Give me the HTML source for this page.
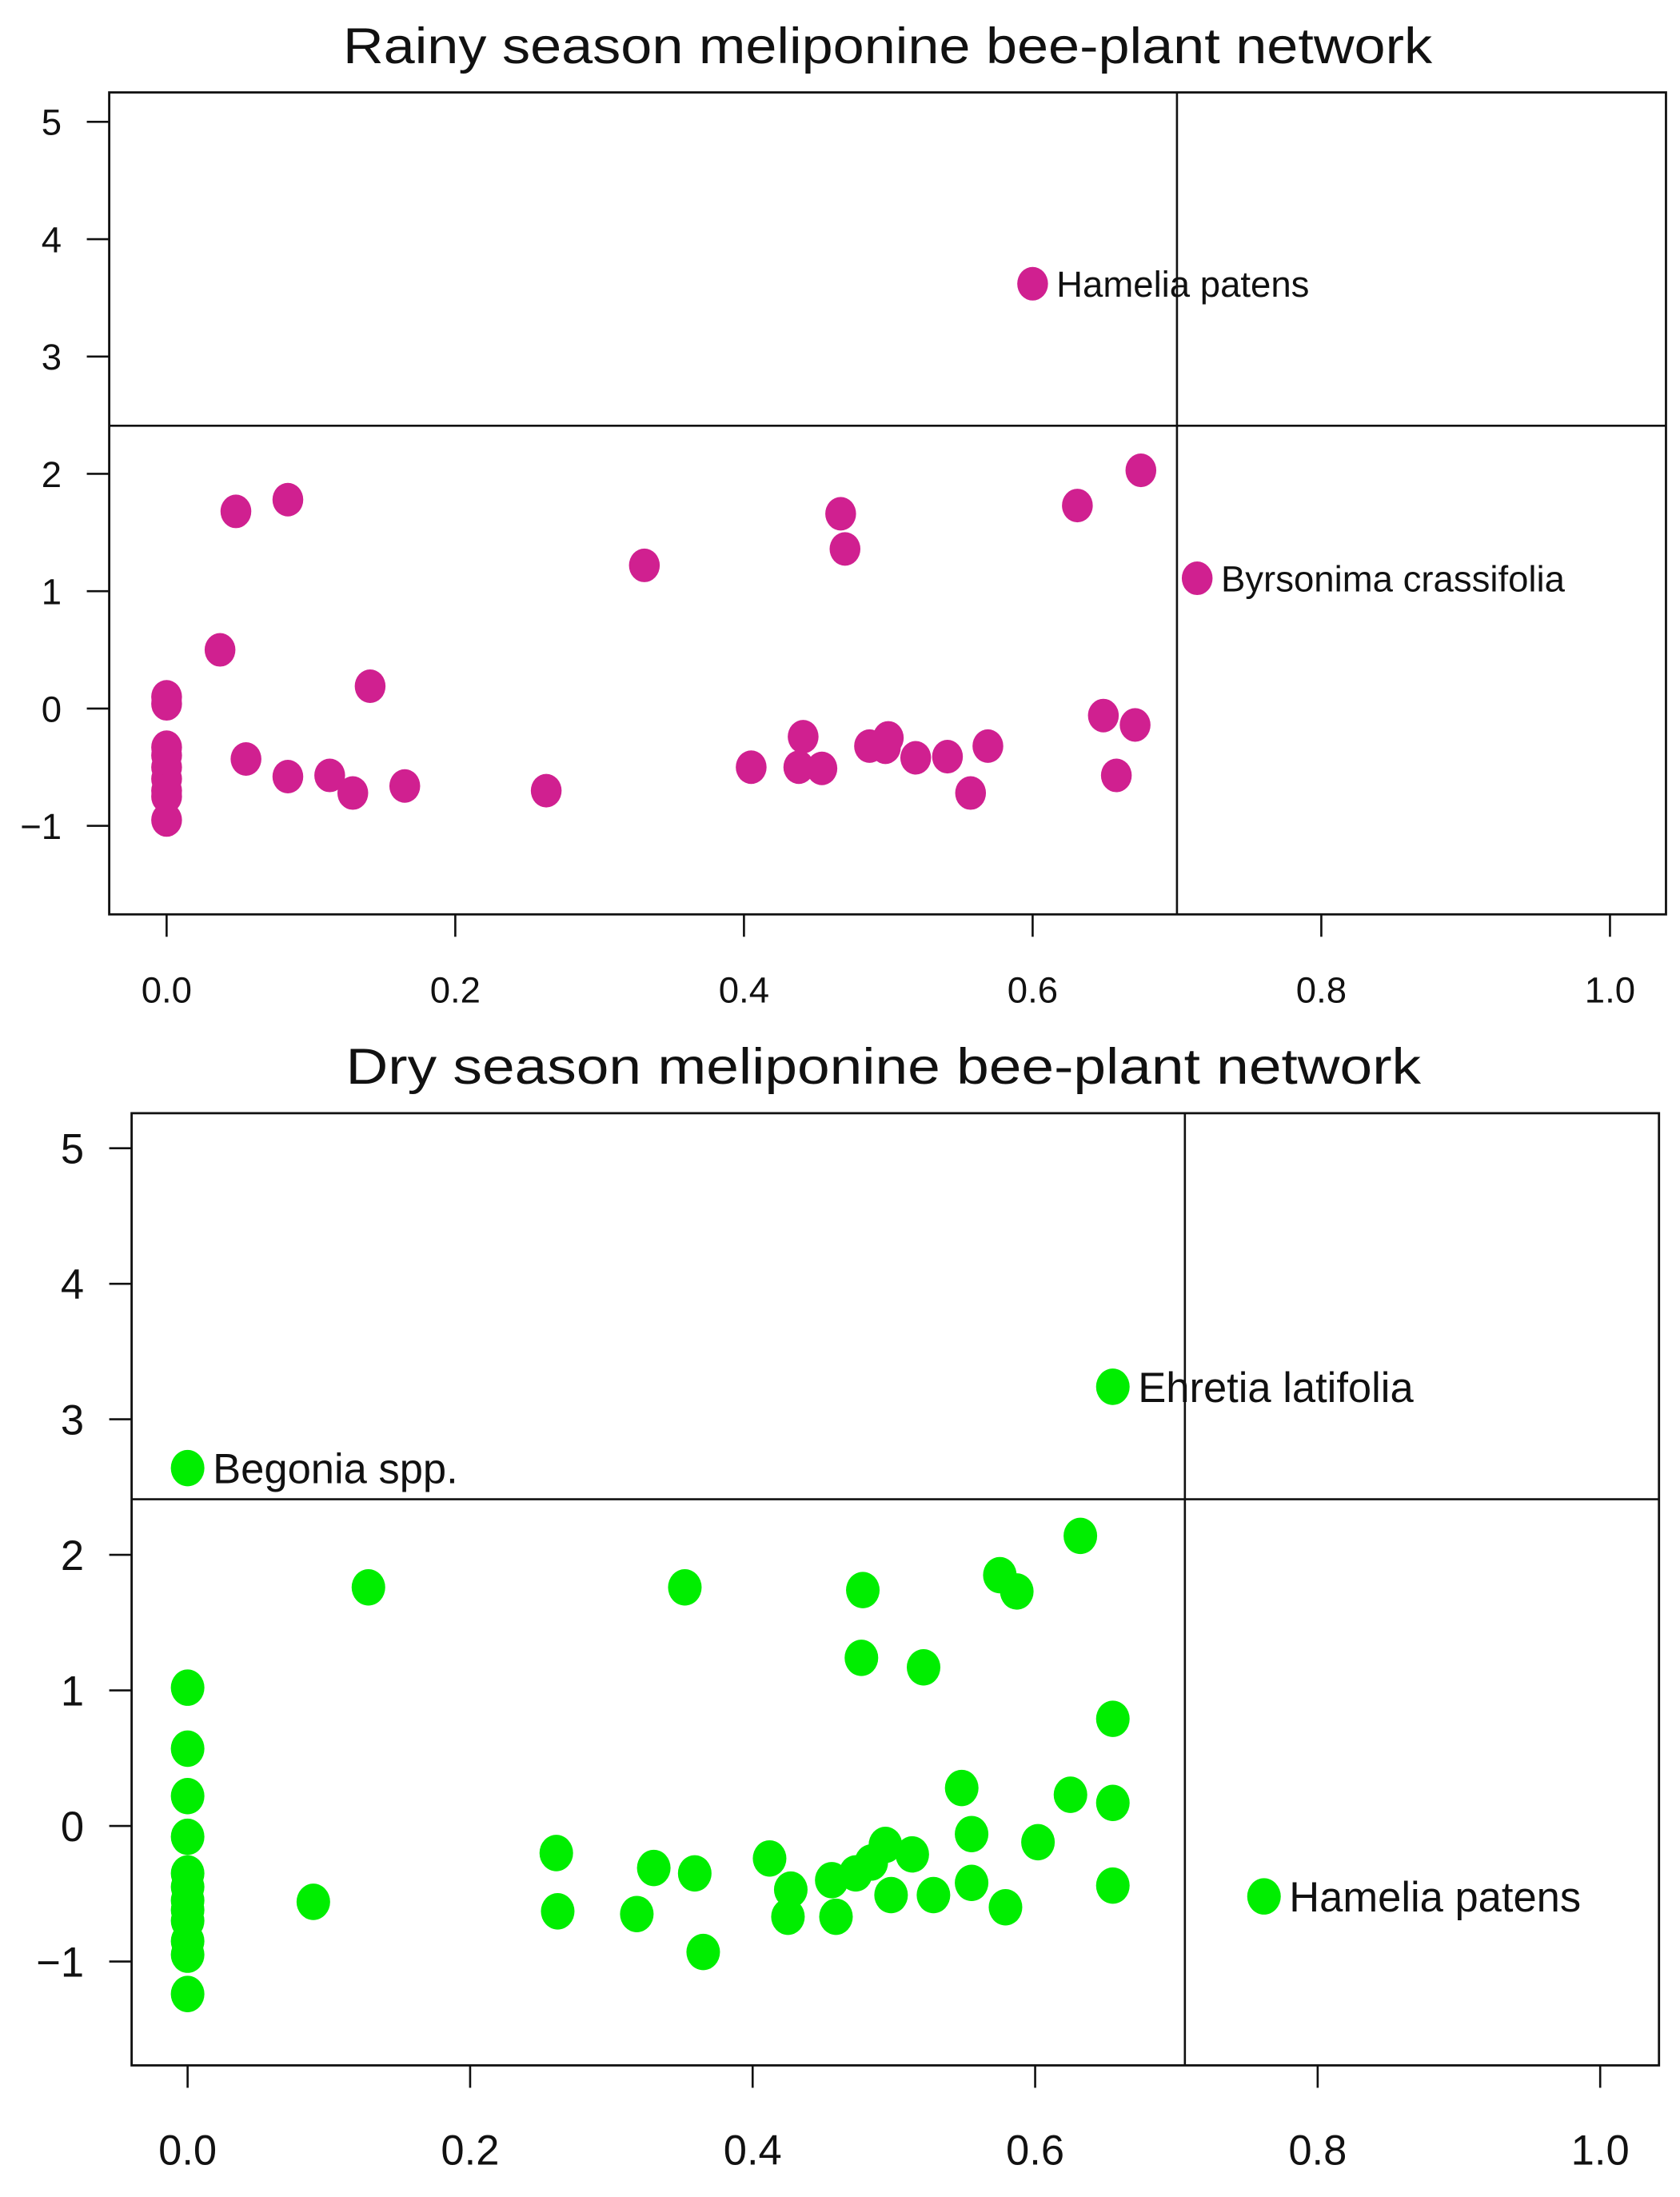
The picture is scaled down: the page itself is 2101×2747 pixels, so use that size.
<!DOCTYPE html>
<html><head><meta charset="utf-8"><style>
html,body{margin:0;padding:0;background:#fff;}
svg{display:block;font-family:"Liberation Sans",sans-serif;}
</style></head><body>
<svg id="fig" width="2101" height="2747" viewBox="0 0 1200 1569" xmlns="http://www.w3.org/2000/svg"></svg>
<script>
// Rainy season data
const rainyX = [0.60,0.714,0.675,0.631,0.467,0.47,0.331,0.048,0.084,0.037,0.141,0,0,0,0,0,0,0,0,0,0.055,0.084,0.113,0.129,0.165,0.263,0.405,0.441,0.438,0.454,0.487,0.5,0.498,0.519,0.541,0.569,0.557,0.649,0.671,0.658];
const rainyY = [3.62,1.11,2.03,1.73,1.66,1.36,1.22,1.68,1.78,0.50,0.19,0.10,0.04,-0.33,-0.40,-0.50,-0.60,-0.70,-0.75,-0.95,-0.43,-0.58,-0.57,-0.72,-0.66,-0.70,-0.50,-0.24,-0.50,-0.51,-0.32,-0.25,-0.33,-0.42,-0.41,-0.32,-0.72,-0.06,-0.14,-0.57];
const rainyLabels = {0:"Hamelia patens",1:"Byrsonima crassifolia"};
// Dry season data
const dryX = [0.655,0,0.762,0.632,0.575,0.587,0.478,0.352,0.128,0.477,0.521,0.655,0.548,0.625,0.655,0.555,0.602,0.261,0.33,0.359,0.412,0.494,0.513,0.484,0.473,0.427,0.456,0.498,0.528,0.555,0.579,0.655,0.089,0.262,0.318,0.425,0.459,0.365,0,0,0,0,0,0,0,0,0,0,0,0];
const dryY = [3.24,2.64,-0.52,2.14,1.85,1.73,1.74,1.76,1.76,1.24,1.17,0.79,0.28,0.23,0.17,-0.06,-0.12,-0.20,-0.31,-0.35,-0.24,-0.14,-0.21,-0.27,-0.35,-0.47,-0.40,-0.51,-0.51,-0.42,-0.60,-0.44,-0.56,-0.63,-0.65,-0.67,-0.67,-0.93,1.02,0.57,0.22,-0.08,-0.35,-0.45,-0.55,-0.62,-0.70,-0.85,-0.95,-1.24];
const dryLabels = {0:"Ehretia latifolia",1:"Begonia spp.",2:"Hamelia patens"};
const xTicks = [0,0.2,0.4,0.6,0.8,1.0];
const xTickLabels = ["0.0","0.2","0.4","0.6","0.8","1.0"];
const yTicks = [-1,0,1,2,3,4,5];
const yTickLabels = ["\u22121","0","1","2","3","4","5"];
const rainyCuts = [0.70,2.41];
const dryCuts = [0.706,2.41];

const NS="http://www.w3.org/2000/svg";
const svg=document.getElementById('fig');
function mk(tag,attrs,parent){const e=document.createElementNS(NS,tag);for(const k in attrs)e.setAttribute(k,attrs[k]);(parent||svg).appendChild(e);return e;}

function panel(cfg){
  const g=mk('g',{});
  
  
  const sx=v=>cfg.x0+v*(cfg.x1-cfg.x0);
  const sy=v=>cfg.y5+(5-v)*cfg.yu;
  const t=mk('text',{x:cfg.tx,y:cfg.ty,'text-anchor':'middle','font-size':36,fill:'#111','textLength':cfg.tlen,'lengthAdjust':'spacingAndGlyphs'},g);
  t.textContent=cfg.title;
  
  
  const box=mk('rect',{x:cfg.L,y:cfg.T,width:cfg.R-cfg.L,height:cfg.B-cfg.T,fill:'none',stroke:'#111','stroke-width':1.6},g);
  
  
  yTicks.forEach((v,i)=>{
    const y=sy(v);
    const l=mk('line',{x1:cfg.L-16,x2:cfg.L,y1:y,y2:y,stroke:'#111','stroke-width':1.5},g);
    
    
    const tx=mk('text',{x:cfg.L-34,y:y+cfg.yfs*0.36,'text-anchor':'end','font-size':cfg.yfs,fill:'#111'},g);
    tx.textContent=yTickLabels[i];
    
    
  });
  xTicks.forEach((v,i)=>{
    const x=sx(v);
    const l=mk('line',{x1:x,x2:x,y1:cfg.B,y2:cfg.B+16,stroke:'#111','stroke-width':1.5},g);
    
    
    const tx=mk('text',{x:x,y:cfg.xly,'text-anchor':'middle','font-size':cfg.xfs,fill:'#111'},g);
    tx.textContent=xTickLabels[i];
    
    
  });
  const vl=mk('line',{x1:sx(cfg.cuts[0]),x2:sx(cfg.cuts[0]),y1:cfg.T,y2:cfg.B,stroke:'#111','stroke-width':1.5},g);
  
  
  const hl=mk('line',{x1:cfg.L,x2:cfg.R,y1:sy(cfg.cuts[1]),y2:sy(cfg.cuts[1]),stroke:'#111','stroke-width':1.5},g);
  
  
  cfg.xs.forEach((v,i)=>{
    const p=mk('ellipse',{cx:sx(v),cy:sy(cfg.ys[i]),rx:cfg.rx,ry:cfg.ry,fill:cfg.color},g);
    
    
    if(cfg.labels[i]){
      const lt=mk('text',{x:sx(v)+cfg.rx+6,y:sy(cfg.ys[i])+cfg.lfs*0.36,'font-size':cfg.lfs,fill:'#111'},g);
      lt.textContent=cfg.labels[i];
      
      
    }
  });
}
panel({name:'rainy-season-chart',title:'Rainy season meliponine bee-plant network',tx:634,ty:45,tlen:778,
  L:78,R:1190,T:66,B:653,x0:119,x1:1150,y5:87,yu:83.8,xly:716,xfs:26,yfs:26,rx:11,ry:12,lfs:26,
  color:'#d02090',xs:rainyX,ys:rainyY,labels:rainyLabels,cuts:rainyCuts});
panel({name:'dry-season-chart',title:'Dry season meliponine bee-plant network',tx:631,ty:774,tlen:768,
  L:94,R:1185,T:795,B:1475,x0:134,x1:1143,y5:820,yu:96.8,xly:1546,xfs:30,yfs:30,rx:12,ry:13,lfs:30,
  color:'#00ee00',xs:dryX,ys:dryY,labels:dryLabels,cuts:dryCuts});
</script>
</body></html>
